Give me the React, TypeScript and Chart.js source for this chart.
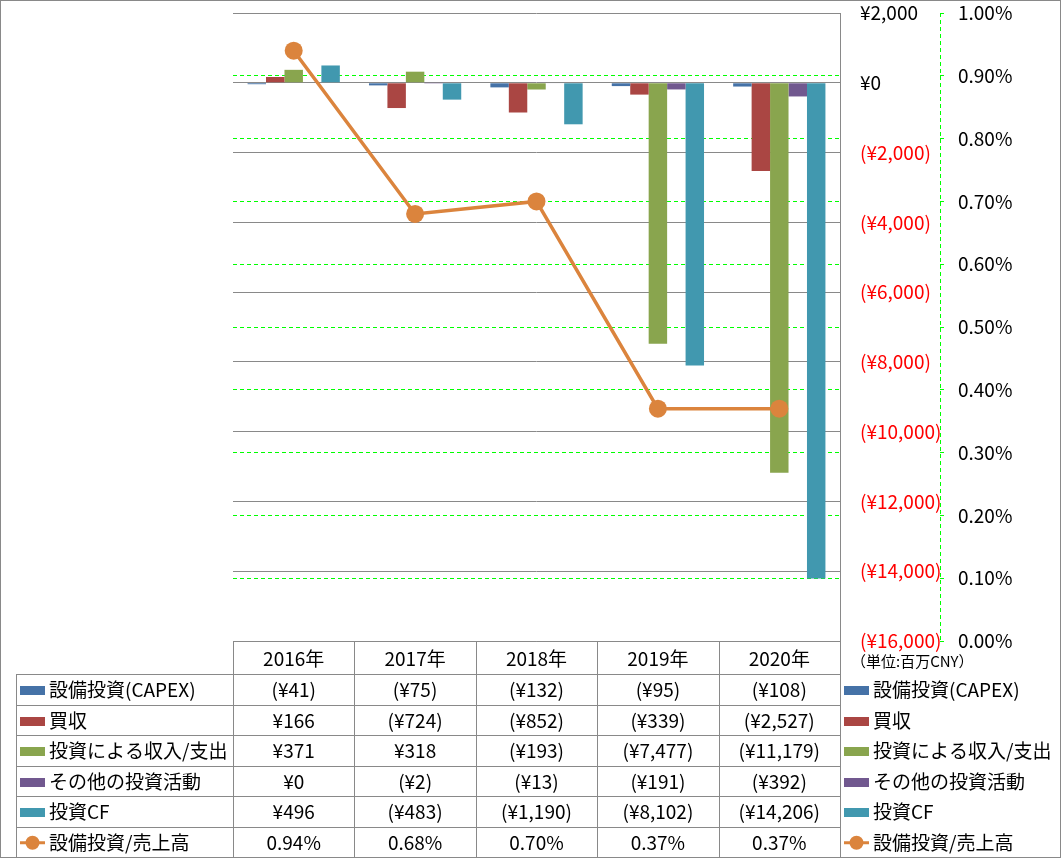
import React, { useEffect, useRef } from 'react';
import { Chart, registerables } from 'chart.js';

Chart.register(...registerables);

const categories = ['2016年', '2017年', '2018年', '2019年', '2020年'];
const capex = [-41, -75, -132, -95, -108];
const acquisitions = [166, -724, -852, -339, -2527];
const investIncome = [371, 318, -193, -7477, -11179];
const otherInvest = [0, -2, -13, -191, -392];
const investCF = [496, -483, -1190, -8102, -14206];
const capexRatio = [0.94, 0.68, 0.7, 0.37, 0.37];

const seriesNames = ['設備投資(CAPEX)', '買収', '投資による収入/支出', 'その他の投資活動', '投資CF', '設備投資/売上高'];
const seriesColors = ['#4572A7', '#AA4643', '#89A54E', '#71588F', '#4198AF', '#DB843D'];

const yenMin = -16000;
const yenMax = 2000;
const yenStep = 2000;
const pctMin = 0;
const pctMax = 1;
const pctStep = 0.1;
const unitLabel = '（単位:百万CNY）';

const FONT = '"Noto Sans CJK JP", "Noto Sans", sans-serif';
const GRID = '#898989';
const GREEN = '#00FF00';

function fmtYen(v: number): string {
  const s = '¥' + Math.abs(v).toLocaleString('en-US');
  return v < 0 ? `(${s})` : s;
}
function fmtPct(v: number): string {
  return v.toFixed(2) + '%';
}

const tablePlugin = {
  id: 'dataTable',
  afterDraw(chart: any) {
    const { ctx, chartArea } = chart;
    const xs = chart.scales.x;
    const left = chartArea.left;
    const right = chartArea.right;
    const catW = (right - left) / categories.length;
    const headTop = chartArea.bottom;
    const headBot = headTop + 33;
    const rowH = 30.5;
    const legendLeft = 16;
    const rowsCount = 6;
    const bottom = headBot + rowsCount * rowH;

    ctx.save();
    ctx.lineWidth = 1;
    ctx.strokeStyle = GRID;
    const hline = (x1: number, x2: number, y: number) => {
      const yy = Math.round(y) + 0.5;
      ctx.beginPath();
      ctx.moveTo(x1, yy);
      ctx.lineTo(x2, yy);
      ctx.stroke();
    };
    const vline = (x: number, y1: number, y2: number) => {
      const xx = Math.round(x) + 0.5;
      ctx.beginPath();
      ctx.moveTo(xx, y1);
      ctx.lineTo(xx, y2);
      ctx.stroke();
    };
    hline(left, right, headTop);
    for (let k = 0; k <= rowsCount; k++) hline(legendLeft, right, headBot + k * rowH);
    vline(legendLeft, headBot, bottom);
    for (let i = 0; i < categories.length; i++) vline(left + i * catW, headTop, bottom);
    vline(right, chartArea.top, bottom);

    ctx.fillStyle = '#000';
    ctx.textBaseline = 'middle';
    ctx.textAlign = 'center';
    ctx.font = `19px ${FONT}`;
    categories.forEach((c, i) => ctx.fillText(c, xs.getPixelForValue(i), (headTop + headBot) / 2 + 1));

    const rows = [capex, acquisitions, investIncome, otherInvest, investCF, capexRatio];
    const drawKey = (x: number, cy: number, r: number) => {
      ctx.fillStyle = seriesColors[r];
      ctx.strokeStyle = seriesColors[r];
      if (r < 5) {
        ctx.fillRect(x, Math.round(cy - 4), 25, 9);
      } else {
        ctx.lineWidth = 3;
        ctx.beginPath();
        ctx.moveTo(x, cy);
        ctx.lineTo(x + 25, cy);
        ctx.stroke();
        ctx.beginPath();
        ctx.arc(x + 12.5, cy, 7, 0, Math.PI * 2);
        ctx.fill();
        ctx.lineWidth = 1;
      }
    };
    rows.forEach((vals, r) => {
      const cy = headBot + r * rowH + rowH / 2 + 1;
      ctx.font = `19px ${FONT}`;
      ctx.textAlign = 'center';
      ctx.fillStyle = '#000';
      vals.forEach((v, i) => ctx.fillText(r === 5 ? fmtPct(v) : fmtYen(v), xs.getPixelForValue(i), cy));
      drawKey(20, cy, r);
      drawKey(844, cy, r);
      ctx.fillStyle = '#000';
      ctx.textAlign = 'left';
      ctx.fillText(seriesNames[r], 49, cy);
      ctx.fillText(seriesNames[r], 873, cy);
    });

    ctx.font = `15px ${FONT}`;
    ctx.textAlign = 'left';
    ctx.fillStyle = '#000';
    ctx.fillText(unitLabel, 851, 661);

    const ps = chart.scales.yPct;
    ctx.strokeStyle = GREEN;
    ctx.setLineDash([4, 3]);
    vline(ps.left, ps.top, ps.bottom);
    ctx.setLineDash([]);

    ctx.strokeStyle = GRID;
    ctx.strokeRect(0.5, 0.5, chart.width - 1, chart.height - 1);
    ctx.restore();
  },
};

export default function App() {
  const ref = useRef<HTMLCanvasElement | null>(null);
  useEffect(() => {
    document.body.style.margin = '0';
    const canvas = ref.current;
    if (!canvas) return;
    const barData = [capex, acquisitions, investIncome, otherInvest, investCF];
    const datasets: any[] = barData.map((d, i) => ({
      type: 'bar',
      label: seriesNames[i],
      data: d,
      backgroundColor: seriesColors[i],
      borderWidth: 0,
      yAxisID: 'y',
      categoryPercentage: 0.76,
      barPercentage: 1,
      order: 2,
    }));
    datasets.push({
      type: 'line',
      label: seriesNames[5],
      data: capexRatio,
      borderColor: seriesColors[5],
      backgroundColor: seriesColors[5],
      borderWidth: 3.5,
      pointRadius: 9,
      pointBorderWidth: 0,
      pointBackgroundColor: seriesColors[5],
      yAxisID: 'yPct',
      order: 1,
    });
    const chart = new Chart(canvas, {
      type: 'bar',
      data: { labels: categories, datasets },
      plugins: [tablePlugin],
      options: {
        responsive: false,
        animation: false,
        devicePixelRatio: 1,
        layout: { padding: { left: 233, top: 13, bottom: 217, right: 0 } },
        plugins: { legend: { display: false }, tooltip: { enabled: false } },
        scales: {
          x: { display: false, offset: true },
          y: {
            position: 'right',
            weight: 1,
            min: yenMin,
            max: yenMax,
            afterFit: (s: any) => { s.width = 100; s.paddingTop = 0; s.paddingBottom = 0; },
            ticks: {
              stepSize: yenStep,
              padding: 20,
              font: { family: FONT, size: 19 },
              color: (c: any) => (c.tick && c.tick.value < 0 ? '#FF0000' : '#000000'),
              callback: (v: any) => fmtYen(Number(v)),
            },
            grid: { color: GRID, lineWidth: 1, drawTicks: false },
            border: { display: true, color: GRID },
          },
          yPct: {
            position: 'right',
            weight: 2,
            min: pctMin,
            max: pctMax,
            afterFit: (s: any) => { s.width = 121; s.paddingTop = 0; s.paddingBottom = 0; },
            ticks: {
              stepSize: pctStep,
              padding: 14,
              font: { family: FONT, size: 19 },
              color: '#000000',
              callback: (v: any) => fmtPct(Number(v)),
            },
            grid: {
              color: (c: any) => {
                const v = c.tick ? c.tick.value : 0.5;
                return Math.abs(v) < 1e-6 || Math.abs(v - 1) < 1e-6 ? 'rgba(0,0,0,0)' : GREEN;
              },
              tickColor: GREEN,
              tickLength: 4,
              lineWidth: 1,
            },
            border: { display: false, dash: [4, 3] },
          },
        },
      } as any,
    });
    return () => chart.destroy();
  }, []);
  return (
    <div style={{ position: 'absolute', left: 0, top: 0, width: 1061, height: 858, background: '#fff' }}>
      <canvas ref={ref} width={1061} height={858} style={{ display: 'block' }} />
    </div>
  );
}
